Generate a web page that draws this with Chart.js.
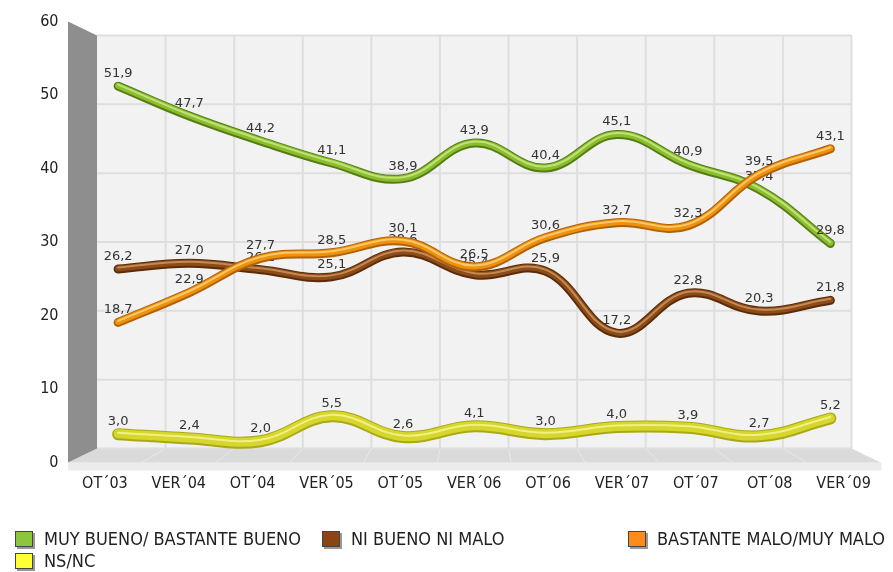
<!DOCTYPE html>
<html>
<head>
<meta charset="utf-8">
<script src="https://cdn.jsdelivr.net/npm/chart.js@4.4.1/dist/chart.umd.min.js"></script>
<style>
  html, body { margin: 0; padding: 0; background: #fff; }
  #wrap { position: relative; width: 893px; height: 572px; }
  .leg { position: absolute; display: flex; align-items: center; font-family: "DejaVu Sans Condensed", "DejaVu Sans", sans-serif; font-size: 18px; color: #222; white-space: nowrap; line-height: 20px; }
  .sw { width: 16px; height: 14px; margin-right: 11px; border: 1px solid #444; box-shadow: 2px 2px 0 #999; }
</style>
</head>
<body>
<div id="wrap">
  <canvas id="chart" width="893" height="572"></canvas>
</div>
<script>
/* ---- data ---- */
const CATEGORIES = ["OT\u00B403", "VER\u00B404", "OT\u00B404", "VER\u00B405", "OT\u00B405", "VER\u00B406",
                    "OT\u00B406", "VER\u00B407", "OT\u00B407", "OT\u00B408", "VER\u00B409"];
const SERIES_NAMES = ["MUY BUENO/ BASTANTE BUENO", "NI BUENO NI MALO", "BASTANTE MALO/MUY MALO", "NS/NC"];
const MUY_BUENO = [51.9, 47.7, 44.2, 41.1, 38.9, 43.9, 40.4, 45.1, 40.9, 37.4, 29.8];
const NI_BUENO = [26.2, 27.0, 26.1, 25.1, 28.6, 25.4, 25.9, 17.2, 22.8, 20.3, 21.8];
const MALO = [18.7, 22.9, 27.7, 28.5, 30.1, 26.5, 30.6, 32.7, 32.3, 39.5, 43.1];
const NSNC = [3.0, 2.4, 2.0, 5.5, 2.6, 4.1, 3.0, 4.0, 3.9, 2.7, 5.2];
const Y_TICKS = [0, 10, 20, 30, 40, 50, 60];

/* ---- styles ---- */
const EDGE = ["#557d14", "#5c2c0a", "#b0620a", "#a9a915"];
const MAIN = ["#8cbd2c", "#8c4c1a", "#ec920e", "#d6d62e"];
const HILITE = ["#bfe27a", "#c58a52", "#ffc766", "#f1f183"];
const WIDTH = [9, 9, 9, 12];
const SWATCH = ["#8cc63f", "#8b4513", "#ff8c1a", "#ffff33"];
const LEGEND_POS = [[15, 529], [322, 529], [628, 529], [15, 551]];
const TEXT = "#333";
const TICK_FONT = "'DejaVu Sans Condensed', 'DejaVu Sans', sans-serif";

/* 3D box: data sits in the middle plane, walls offset by DX/DY */
const DX = 14.5, DY = 7;
const AREA_L = 82.5, AREA_R = 866, AREA_T = 28.5, AREA_B = 455.5;
const X_AXIS_H = 44;
const frontCat = (AREA_R - AREA_L + 2 * DX) / CATEGORIES.length;
const X_MIN = DX / frontCat - 0.5;
const X_MAX = (AREA_R - AREA_L + DX) / frontCat - 0.5;
const frontUnit = (AREA_B - AREA_T + 2 * DY) / 60;
const Y_MIN = DY / frontUnit;
const Y_MAX = 60 - DY / frontUnit;

const box3d = {
  id: "box3d",
  beforeDatasetsDraw(chart) {
    const { ctx, chartArea: a } = chart;
    const n = CATEGORIES.length;
    const bl = a.left + DX, br = a.right - DX, bt = a.top + DY, bb = a.bottom - DY;
    const fl = a.left - DX, fr = a.right + DX, ft = a.top - DY, fb = a.bottom + DY;
    ctx.save();
    // floor slab edge
    ctx.fillStyle = "#ececec";
    ctx.fillRect(fl, fb, fr - fl + 1, 8);
    // floor
    ctx.fillStyle = "#dadada";
    ctx.beginPath();
    ctx.moveTo(bl, bb); ctx.lineTo(br, bb); ctx.lineTo(fr, fb); ctx.lineTo(fl, fb); ctx.closePath();
    ctx.fill();
    ctx.strokeStyle = "#e9e9e9"; ctx.lineWidth = 1;
    for (let i = 1; i < n; i++) {
      ctx.beginPath();
      ctx.moveTo(bl + i * (br - bl) / n, bb);
      ctx.lineTo(fl + i * (fr - fl) / n, fb);
      ctx.stroke();
    }
    // left wall
    ctx.fillStyle = "#8e8e8e";
    ctx.beginPath();
    ctx.moveTo(fl, ft); ctx.lineTo(bl, bt); ctx.lineTo(bl, bb); ctx.lineTo(fl, fb); ctx.closePath();
    ctx.fill();
    // back wall
    ctx.fillStyle = "#f2f2f2";
    ctx.fillRect(bl, bt, br - bl, bb - bt);
    ctx.strokeStyle = "#dedede"; ctx.lineWidth = 2;
    Y_TICKS.forEach((v) => {
      const y = bb - v / 60 * (bb - bt);
      ctx.beginPath(); ctx.moveTo(bl, y); ctx.lineTo(br, y); ctx.stroke();
    });
    for (let i = 1; i <= n; i++) {
      const x = bl + i * (br - bl) / n;
      ctx.beginPath(); ctx.moveTo(x, bt); ctx.lineTo(x, bb); ctx.stroke();
    }
    ctx.restore();
  },
  afterDatasetDraw(chart, args) {
    const { ctx } = chart;
    const i = args.index, line = args.meta.dataset;
    ctx.save();
    ctx.lineCap = "round"; ctx.lineJoin = "round";
    const stroke = (color, w, dy) => {
      ctx.save();
      ctx.translate(0, dy);
      ctx.beginPath();
      line.path(ctx);
      ctx.strokeStyle = color; ctx.lineWidth = w; ctx.stroke();
      ctx.restore();
    };
    stroke(MAIN[i], WIDTH[i] - 3, -0.5);
    stroke(HILITE[i], 2, -1.5);
    // value labels
    ctx.font = "13px 'DejaVu Sans'";
    ctx.fillStyle = TEXT; ctx.textAlign = "center"; ctx.textBaseline = "bottom";
    args.meta.data.forEach((p, k) => {
      const v = chart.data.datasets[i].data[k];
      ctx.fillText(v.toFixed(1).replace(".", ","), p.x, p.y - 6);
    });
    ctx.restore();
  },
};

const SERIES = [MUY_BUENO, NI_BUENO, MALO, NSNC];
const DRAW_ORDER = [3, 2, 1, 4];

new Chart(document.getElementById("chart"), {
  type: "line",
  data: {
    labels: CATEGORIES,
    datasets: SERIES.map((d, i) => ({
      label: SERIES_NAMES[i], data: d, order: DRAW_ORDER[i],
      borderColor: EDGE[i], borderWidth: WIDTH[i], borderCapStyle: "round",
      tension: 0.4, pointRadius: 0, fill: false,
    })),
  },
  options: {
    responsive: false, animation: false,
    layout: { padding: { left: 0, right: 893 - AREA_R, top: AREA_T, bottom: 572 - AREA_B - X_AXIS_H } },
    plugins: { legend: { display: false }, tooltip: { enabled: false } },
    scales: {
      x: { type: "category", display: false, offset: true },
      y: { type: "linear", display: false, min: 0, max: 60 },
      xf: {
        type: "linear", position: "bottom", min: X_MIN, max: X_MAX,
        afterBuildTicks: (s) => { s.ticks = CATEGORIES.map((c, k) => ({ value: k })); },
        afterFit: (s) => { s.height = X_AXIS_H; },
        grid: { display: false, drawTicks: false }, border: { display: false },
        ticks: { callback: (v) => CATEGORIES[v], autoSkip: false, maxRotation: 0, padding: 19, color: "#222",
                 font: { family: TICK_FONT, size: 16 } },
      },
      yf: {
        type: "linear", position: "left", min: Y_MIN, max: Y_MAX,
        afterBuildTicks: (s) => { s.ticks = Y_TICKS.map((v) => ({ value: v })); },
        afterFit: (s) => { s.width = AREA_L; },
        grid: { display: false, drawTicks: false }, border: { display: false },
        ticks: { padding: 24, color: "#222", font: { family: TICK_FONT, size: 16, lineHeight: 0.4 } },
      },
    },
  },
  plugins: [box3d],
});

/* ---- legend ---- */
const wrap = document.getElementById("wrap");
SERIES_NAMES.forEach((name, i) => {
  const el = document.createElement("div");
  el.className = "leg";
  el.style.left = LEGEND_POS[i][0] + "px";
  el.style.top = LEGEND_POS[i][1] + "px";
  el.innerHTML = '<span class="sw" style="background:' + SWATCH[i] + '"></span><span>' + name + "</span>";
  wrap.appendChild(el);
});
</script>
</body>
</html>
